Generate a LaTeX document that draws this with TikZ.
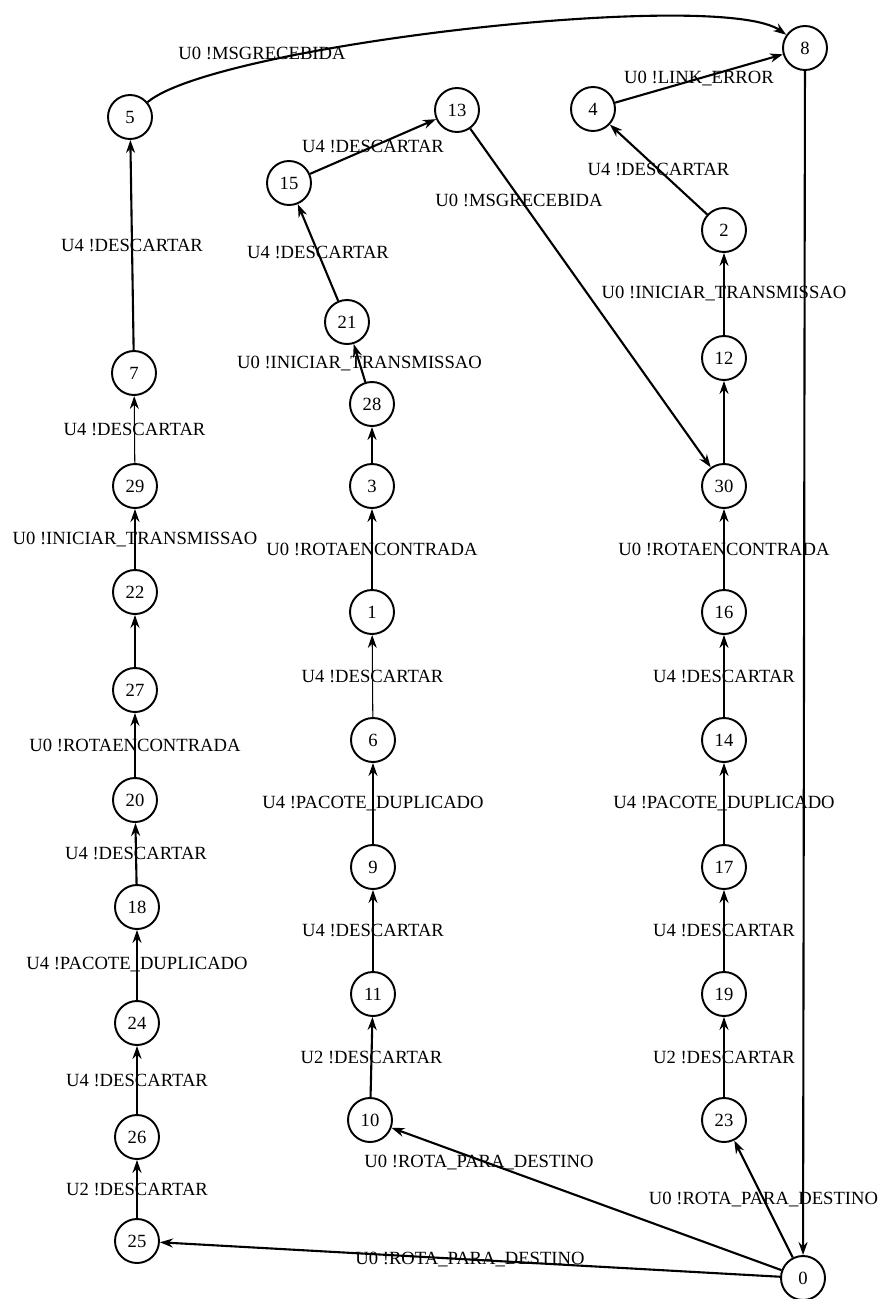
\documentclass[tikz,border=0pt]{standalone}
\usepackage{fontspec}
\setmainfont{Liberation Serif}
\usetikzlibrary{arrows.meta}
\tikzset{
  state/.style={draw, circle, line width=1.1pt, minimum size=8.8mm, inner sep=0pt, font=\fontsize{10.6}{12}\selectfont},
  lbl/.style={font=\fontsize{10.6}{12}\selectfont, inner sep=1pt},
  tr/.style={-{Stealth[length=2.6mm, width=1.8mm]}, line width=0.6pt},
  trb/.style={tr, line width=1.2pt}
}

\begin{document}
\begin{tikzpicture}[x=0.2mm, y=-0.2mm]
        \useasboundingbox (0,0) rectangle (883,1299);

        % Left column
        \node[state] (s5) at (130,117) {5};
        \node[state] (s7) at (134,373) {7};
        \node[state] (s29) at (135,486) {29};
        \node[state] (s22) at (135,592) {22};
        \node[state] (s27) at (135,690) {27};
        \node[state] (s20) at (135,800) {20};
        \node[state] (s18) at (137,907) {18};
        \node[state] (s24) at (137,1023) {24};
        \node[state] (s26) at (137,1137) {26};
        \node[state] (s25) at (137,1241) {25};

        % Middle column
        \node[state] (s13) at (457,110) {13};
        \node[state] (s15) at (289,183) {15};
        \node[state] (s21) at (347,322) {21};
        \node[state] (s28) at (372,404) {28};
        \node[state] (s3) at (372,486) {3};
        \node[state] (s1) at (372,612) {1};
        \node[state] (s6) at (373,740) {6};
        \node[state] (s9) at (373,867) {9};
        \node[state] (s11) at (373,994) {11};
        \node[state] (s10) at (370,1120) {10};

        % Right column
        \node[state] (s8) at (805,48) {8};
        \node[state] (s4) at (593,109) {4};
        \node[state] (s2) at (724,230) {2};
        \node[state] (s12) at (724,358) {12};
        \node[state] (s30) at (724,486) {30};
        \node[state] (s16) at (724,612) {16};
        \node[state] (s14) at (724,740) {14};
        \node[state] (s17) at (724,867) {17};
        \node[state] (s19) at (724,994) {19};
        \node[state] (s23) at (724,1120) {23};
        \node[state] (s0) at (803,1278) {0};

        % Left chain
        \draw[trb] (s5) .. controls (215,45) and (720,-12) .. (s8);
        \node[lbl] (t5) at (262,53) {U0 !MSGRECEBIDA};
        \draw[trb] (s7) -- node[lbl, midway] (t7) {U4 !DESCARTAR} (s5);
        \draw[tr] (s29) -- node[lbl, midway] (t29) {U4 !DESCARTAR} (s7);
        \draw[tr] (s22) -- node[lbl, midway] (t22) {U0 !INICIAR\_TRANSMISSAO} (s29);
        \draw[tr] (s27) -- (s22);
        \draw[tr] (s20) -- node[lbl, midway] (t20) {U0 !ROTAENCONTRADA} (s27);
        \draw[trb] (s18) -- node[lbl, midway] (t18) {U4 !DESCARTAR} (s20);
        \draw[tr] (s24) -- node[lbl, midway] (t24) {U4 !PACOTE\_DUPLICADO} (s18);
        \draw[trb] (s26) -- node[lbl, midway] (t26) {U4 !DESCARTAR} (s24);
        \draw[tr] (s25) -- node[lbl, midway] (t25) {U2 !DESCARTAR} (s26);
        \draw[trb] (s0) -- node[lbl, midway] (t0a) {U0 !ROTA\_PARA\_DESTINO} (s25);

        % Middle chain
        \draw[trb] (s15) -- node[lbl, midway] (t15) {U4 !DESCARTAR} (s13);
        \draw[trb] (s21) -- node[lbl, midway] (t21) {U4 !DESCARTAR} (s15);
        \draw[trb] (s28) -- node[lbl, midway] (t28) {U0 !INICIAR\_TRANSMISSAO} (s21);
        \draw[trb] (s3) -- (s28);
        \draw[tr] (s1) -- node[lbl, midway] (t1) {U0 !ROTAENCONTRADA} (s3);
        \draw[tr] (s6) -- node[lbl, midway] (t6) {U4 !DESCARTAR} (s1);
        \draw[tr] (s9) -- node[lbl, midway] (t9) {U4 !PACOTE\_DUPLICADO} (s6);
        \draw[tr] (s11) -- node[lbl, midway] (t11) {U4 !DESCARTAR} (s9);
        \draw[trb] (s10) -- node[lbl, midway] (t10) {U2 !DESCARTAR} (s11);
        \draw[trb] (s0) -- (s10);
        \node[lbl] (t0b) at (479,1162) {U0 !ROTA\_PARA\_DESTINO};

        % Right chain
        \draw[trb] (s13) -- (s30);
        \node[lbl] (t13) at (519,200) {U0 !MSGRECEBIDA};
        \draw[trb] (s4) -- node[lbl, midway] (t4) {U0 !LINK\_ERROR} (s8);
        \draw[trb] (s2) -- node[lbl, midway] (t2) {U4 !DESCARTAR} (s4);
        \draw[tr] (s12) -- node[lbl, midway] (t12) {U0 !INICIAR\_TRANSMISSAO} (s2);
        \draw[tr] (s30) -- (s12);
        \draw[tr] (s16) -- node[lbl, midway] (t16) {U0 !ROTAENCONTRADA} (s30);
        \draw[tr] (s14) -- node[lbl, midway] (t14) {U4 !DESCARTAR} (s16);
        \draw[tr] (s17) -- node[lbl, midway] (t17) {U4 !PACOTE\_DUPLICADO} (s14);
        \draw[tr] (s19) -- node[lbl, midway] (t19) {U4 !DESCARTAR} (s17);
        \draw[tr] (s23) -- node[lbl, midway] (t23) {U2 !DESCARTAR} (s19);
        \draw[trb] (s0) -- node[lbl, midway] (t0c) {U0 !ROTA\_PARA\_DESTINO} (s23);
        \draw[trb] (s8) -- (s0);
\end{tikzpicture}
\end{document}
